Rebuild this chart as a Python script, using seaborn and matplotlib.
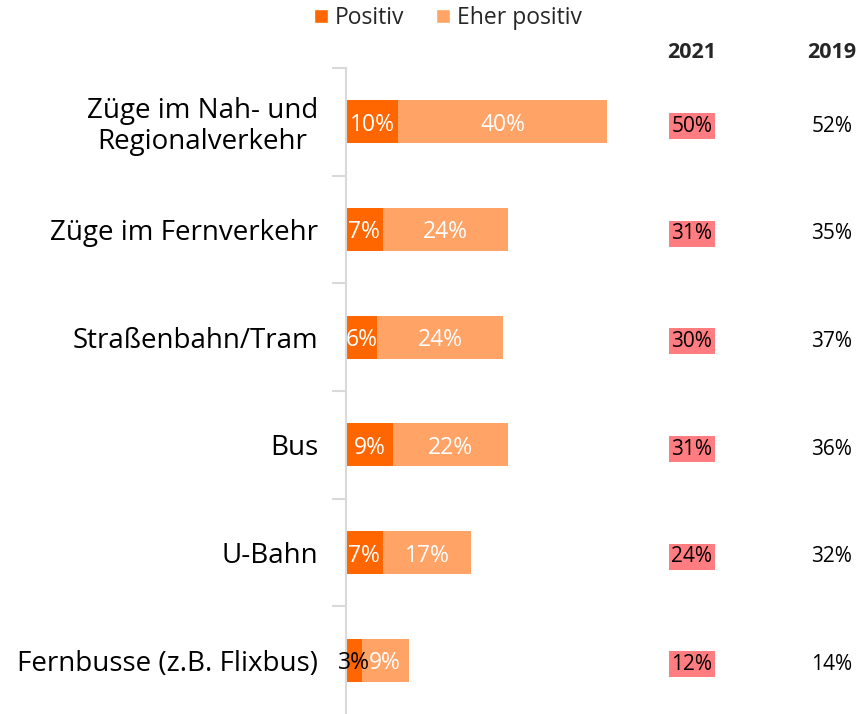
import matplotlib
matplotlib.use("Agg")
import matplotlib.pyplot as plt
import matplotlib.transforms as mtransforms
from matplotlib.patches import Patch
import seaborn as sns
import pandas as pd

categories = ["Züge im Nah- und\nRegionalverkehr", "Züge im Fernverkehr", "Straßenbahn/Tram",
              "Bus", "U-Bahn", "Fernbusse (z.B. Flixbus)"]
positiv = [10, 7, 6, 9, 7, 3]
eher_positiv = [40, 24, 24, 22, 17, 9]
total_2021 = [50, 31, 30, 31, 24, 12]
total_2019 = [52, 35, 37, 36, 32, 14]
year_headers = ["2021", "2019"]

c_pos = "#FF6600"
c_eher = "#FFA366"
c_high = "#FF7C80"

sns.set_theme(style="white")
plt.rcParams["font.family"] = ["Open Sans", "DejaVu Sans"]

df = pd.DataFrame({"cat": categories, "pos": positiv, "eher": eher_positiv})
df["sum"] = df["pos"] + df["eher"]

fig = plt.figure(figsize=(8.6, 7.14), dpi=100)
ax = fig.add_axes([346/860, 0.0, 1 - 346/860, 1 - 68/714])

sns.barplot(data=df, y="cat", x="sum", color=c_eher, orient="h", width=0.4,
            ax=ax, saturation=1, linewidth=0)
sns.barplot(data=df, y="cat", x="pos", color=c_pos, orient="h", width=0.4,
            ax=ax, saturation=1, linewidth=0)

ax.set_xlim(0, 514/5.22)
ax.set_ylim(len(categories) - 0.5, -0.5)
ax.set_xlabel("")
ax.set_ylabel("")
ax.set_xticks([])
for s in ["top", "right", "bottom"]:
    ax.spines[s].set_visible(False)
ax.spines["left"].set_color("#d9d9d9")
ax.spines["left"].set_linewidth(1.5)

ax.tick_params(axis="y", which="major", length=0, pad=20, labelsize=20, labelcolor="black")
ax.set_yticks(range(len(categories)), categories)
for lbl in ax.get_yticklabels():
    lbl.set_multialignment("center")
    lbl.set_linespacing(1.15)
ax.set_yticks([i - 0.5 for i in range(1, len(categories))] + [-0.5], minor=True)
ax.tick_params(axis="y", which="minor", length=10, width=1.5, color="#d9d9d9", left=True)

for i, (p, e) in enumerate(zip(positiv, eher_positiv)):
    col = "white" if p >= 5 else "black"
    ax.text(p / 2, i, f"{p}%", ha="center", va="center_baseline", color=col, fontsize=16.5)
    ax.text(p + e / 2, i, f"{e}%", ha="center", va="center_baseline", color="white", fontsize=16.5)

trans = mtransforms.blended_transform_factory(fig.transFigure, ax.transData)
x2021 = 692 / 860
x2019 = 832 / 860
for i, (a, b) in enumerate(zip(total_2021, total_2019)):
    ax.text(x2021, i + 0.04, f"{a}%", transform=trans, ha="center", va="center", fontsize=15,
            color="black", bbox=dict(boxstyle="square,pad=0.12", facecolor=c_high, edgecolor="none"))
    ax.text(x2019, i + 0.04, f"{b}%", transform=trans, ha="center", va="center", fontsize=15,
            color="black")

fig.text(x2021, 1 - 52/714, year_headers[0], ha="center", va="center", fontsize=15.5, fontweight="bold")
fig.text(x2019, 1 - 52/714, year_headers[1], ha="center", va="center", fontsize=15.5, fontweight="bold")

handles = [Patch(facecolor=c_pos, label="Positiv"), Patch(facecolor=c_eher, label="Eher positiv")]
fig.legend(handles=handles, loc="center", bbox_to_anchor=(448/860, 1 - 18/714), ncol=2,
           frameon=False, fontsize=16.5, handlelength=0.6, handleheight=0.6,
           handletextpad=0.3, columnspacing=1.4, borderpad=0)

fig.savefig("out.png", dpi=100)
